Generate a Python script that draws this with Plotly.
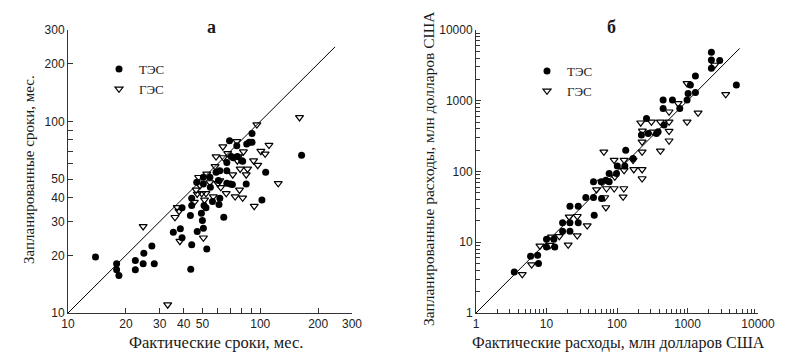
import plotly.graph_objects as go

# ---- Panel "а": construction times (months) ----
tes_time_actual = [13.9, 17.9, 17.9, 18.4, 22.4, 22.4, 24.6, 24.8, 27.3, 28.1, 35.3, 38.4, 39.2, 39.2, 43.5,
                   43.3, 44, 44, 44, 46.7, 47.0, 49.4, 50.0, 50.6, 50.6, 50.6, 51, 52.2, 52.7, 54.7,
                   55, 56.4, 58.9, 60.6, 61, 61.6, 61.6, 64.6, 67, 67, 67, 69.2, 69.9, 70.6, 71.6,
                   72.4, 75.5, 76, 80.2, 81, 84.5, 85, 87.7, 90.6, 90.6, 102, 106.7, 164]
tes_time_planned = [19.6, 18.1, 16.8, 15.7, 18.8, 16.8, 18.1, 20.5, 22.4, 18.1, 26.4, 27.5, 35.4, 24.7, 16.9,
                    32.3, 39.7, 36.4, 22.7, 48.1, 26.6, 33.2, 30.4, 27.7, 51.1, 47.2, 36.4, 35.4, 21.6, 51.1,
                    45.3, 38.2, 54.2, 49.1, 36.8, 55.3, 39.7, 31.6, 47.5, 61.1, 55.3, 79.3, 47.2, 65.5, 46.9,
                    64.6, 74.6, 65.5, 62.4, 62.0, 47.2, 76.2, 77.8, 77.8, 86.6, 38.9, 54.2, 66.5]
ges_time_actual = [24.6, 33.0, 36.0, 37.0, 37.8, 38.2, 45.4, 46.4, 47.0, 47.8, 48.6, 49.6, 50.6, 51.3, 52.2,
                   52.7, 54.7, 57.0, 58.2, 58.9, 60.2, 61.6, 62.3, 63.9, 64.4, 66.5, 67.7, 71.9, 75.5, 76,
                   77, 78, 74, 78.6, 81, 81.7, 84.5, 85.9, 92.3, 93, 96, 97, 100.7, 106, 111, 124, 160]
ges_time_planned = [28.3, 11.05, 31.6, 35.6, 34.0, 23.7, 37.9, 43.9, 41.8, 51.1, 46.3, 42.1, 24.7, 38.9, 42.1,
                    53.2, 48.0, 40.5, 58.3, 65.5, 47.5, 49.1, 45.3, 73.8, 64.8, 42.1, 68.1, 52.7, 78.7, 62.4,
                    65.5, 43.9, 40.5, 56.5, 39.9, 69.5, 52.7, 56.5, 62.4, 36.1, 96.2, 59.1, 69.9, 67.7, 75.2,
                    47.5, 104.9]
diag_time = [10, 245]

# ---- Panel "б": costs (million USD) ----
tes_cost_actual = [3.49, 5.95, 7.48, 7.7, 10, 10, 12.7, 13.1, 16.9, 16.9, 21.5, 21.5, 21.5, 28.2, 28.2,
                   36.1, 46.4, 46.4, 47.5, 59.7, 60.4, 69.5, 77.4, 77.4, 98.4, 101, 129, 133, 169, 222,
                   262, 277, 363, 383, 451, 451, 465, 611, 777, 986, 1020, 1099, 1295, 1295, 2183,
                   2183, 2183, 2865, 4931]
tes_cost_planned = [3.80, 6.34, 6.55, 4.99, 11.0, 8.59, 11.0, 8.6, 18.8, 14.3, 32.3, 18.8, 14.3, 32.3, 18.8,
                    42.9, 71.4, 42.9, 24.1, 71.4, 41.5, 75.4, 71.4, 93.7, 93.7, 120, 120, 200, 153, 327,
                    562, 345, 345, 364, 1021, 780, 453, 1021, 780, 1021, 1270, 1667, 2234, 1312, 4831,
                    3757, 2870, 3700, 1667]
ges_cost_actual = [4.53, 6.15, 8.07, 11.2, 11.8, 15.2, 20.3, 21, 27.3, 27.3, 37.8, 51.3, 60.4, 65.1, 67,
                   69.5, 71, 91.2, 91, 93, 122, 125, 126, 126, 169, 173, 227, 227, 227, 227,
                   229, 217, 308, 325, 413, 413, 548, 548, 548, 548, 736, 986, 986, 1413, 2432, 3483]
ges_cost_planned = [3.52, 4.83, 8.88, 9.1, 11.9, 12.1, 9.2, 22.8, 23.3, 12.4, 17.2, 55.6, 71.4, 190, 42.9,
                    31, 57.5, 57.5, 145, 84, 43.8, 57.5, 104, 145, 145, 107, 107, 190, 79.6, 263,
                    376, 489, 504, 364, 196, 504, 272, 372, 504, 699, 917, 504, 1758, 676, 3199, 1230]
diag_cost = [1, 5500]

# tick labels
time_tickvals = [10, 20, 30, 40, 50, 60, 70, 80, 90, 100, 200, 300]
time_ticktext = ["10", "20", "30", "40", "50", "", "", "", "", "100", "200", "300"]
cost_tickvals = [1, 10, 100, 1000, 10000]
cost_ticktext = ["1", "10", "100", "1000", "10000"]
cost_minor = [m * d for d in [1, 10, 100, 1000] for m in range(2, 10)]

# page body has an 8px margin: figure occupies window pixels 8..800 x 8..360
OFF = 8
W, H = 800 - OFF, 360 - OFF
def px(x):
    return (x - OFF) / W
def py(y):
    return 1 - (y - OFF) / H

SERIF = "Liberation Serif"
SANS = "Liberation Sans"

fig = go.Figure()

circle = dict(symbol="circle", size=7, color="black", line=dict(width=0))
tri = dict(symbol="triangle-down-open", size=7, color="black", line=dict(width=1.2, color="black"))

fig.add_trace(go.Scatter(x=diag_time, y=diag_time, mode="lines", line=dict(color="black", width=1),
                         showlegend=False, xaxis="x", yaxis="y", hoverinfo="skip"))
fig.add_trace(go.Scatter(x=tes_time_actual, y=tes_time_planned, mode="markers", marker=circle,
                         name="ТЭС", xaxis="x", yaxis="y", legend="legend"))
fig.add_trace(go.Scatter(x=ges_time_actual, y=ges_time_planned, mode="markers", marker=tri,
                         name="ГЭС", xaxis="x", yaxis="y", legend="legend"))

fig.add_trace(go.Scatter(x=diag_cost, y=diag_cost, mode="lines", line=dict(color="black", width=1),
                         showlegend=False, xaxis="x2", yaxis="y2", hoverinfo="skip"))
fig.add_trace(go.Scatter(x=tes_cost_actual, y=tes_cost_planned, mode="markers", marker=circle,
                         name="ТЭС", xaxis="x2", yaxis="y2", legend="legend2"))
fig.add_trace(go.Scatter(x=ges_cost_actual, y=ges_cost_planned, mode="markers", marker=tri,
                         name="ГЭС", xaxis="x2", yaxis="y2", legend="legend2"))

ydom = [py(313), py(30)]
axis_common = dict(type="log", showline=True, linecolor="#333", linewidth=1, showgrid=False,
                   zeroline=False, ticks="inside", tickcolor="#333", ticklen=5, automargin=False,
                   tickfont=dict(family=SANS, size=12, color="#222"), mirror=False)

def label(text, x, y, size=15, angle=0, bold=False):
    return dict(text=f"<b>{text}</b>" if bold else text, x=px(x), y=py(y), xref="paper", yref="paper",
                xanchor="center", yanchor="middle", showarrow=False, textangle=angle,
                font=dict(family=SERIF, size=size, color="#1a1a1a"))

fig.update_layout(
    width=W, height=H,
    margin=dict(l=0, r=0, t=0, b=0, pad=0, autoexpand=False),
    paper_bgcolor="white", plot_bgcolor="white",
    xaxis=dict(axis_common, domain=[px(68), px(352)], range=[1, 2.4771], anchor="y",
               tickmode="array", tickvals=time_tickvals, ticktext=time_ticktext),
    yaxis=dict(axis_common, domain=ydom, range=[1, 2.4771], anchor="x",
               tickmode="array", tickvals=time_tickvals, ticktext=time_ticktext),
    xaxis2=dict(axis_common, domain=[px(476), px(758)], range=[0, 4], anchor="y2",
                tickmode="array", tickvals=cost_tickvals, ticktext=cost_ticktext,
                minor=dict(ticks="inside", ticklen=4, tickcolor="#333", tickmode="array", tickvals=cost_minor)),
    yaxis2=dict(axis_common, domain=ydom, range=[0, 4], anchor="x2",
                tickmode="array", tickvals=cost_tickvals, ticktext=cost_ticktext,
                minor=dict(ticks="inside", ticklen=4, tickcolor="#333", tickmode="array", tickvals=cost_minor)),
    legend=dict(x=px(99), y=py(54), xanchor="left", yanchor="top", bgcolor="rgba(0,0,0,0)",
                font=dict(family=SERIF, size=13, color="#222"), itemwidth=30, tracegroupgap=0),
    legend2=dict(x=px(527), y=py(56), xanchor="left", yanchor="top", bgcolor="rgba(0,0,0,0)",
                 font=dict(family=SERIF, size=13, color="#222"), itemwidth=30, tracegroupgap=0),
    annotations=[
        label("а", 211, 27, size=18, bold=True),
        label("б", 611, 27, size=18, bold=True),
        label("Фактические сроки, мес.", 216, 342, size=16.5),
        label("Фактические расходы, млн долларов США", 618, 343, size=16),
        label("Запланированные сроки, мес.", 29, 170, size=15),
        label("Запланированные расходы, млн долларов США", 428, 169, size=15.5),
    ],
)
for a in fig.layout.annotations[4:]:
    a.textangle = -90

fig.write_html("out.html")
